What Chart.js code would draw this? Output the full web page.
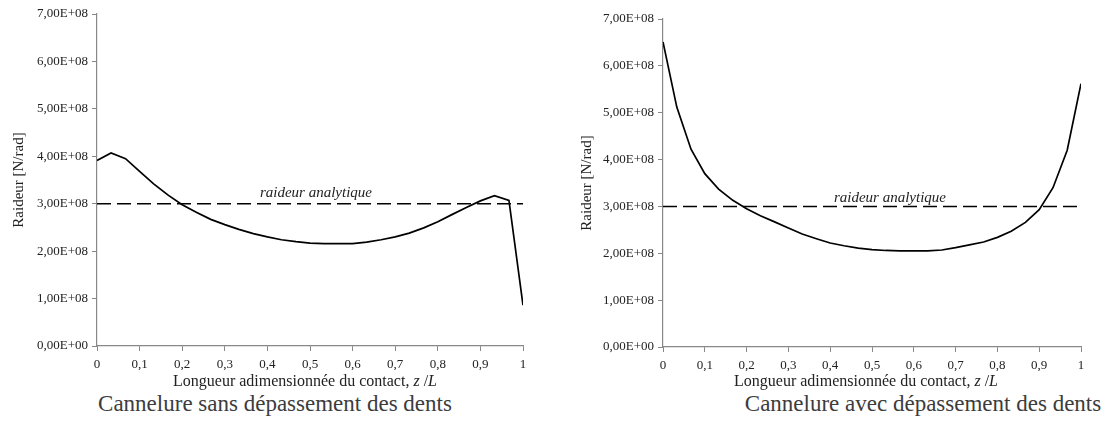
<!DOCTYPE html>
<html lang="fr">
<head>
<meta charset="utf-8">
<script src="https://cdn.jsdelivr.net/npm/chart.js@4/dist/chart.umd.min.js"></script>
<style>
  html, body { margin: 0; padding: 0; background: #fff; }
  body { width: 1106px; height: 432px; position: relative; overflow: hidden;
         font-family: 'Liberation Serif', 'Times New Roman', serif; }
  .box { position: absolute; top: 0; }
  .xtitle { position: absolute; top: 372px; font-size: 16px; color: #222;
            transform: translateX(-50%); white-space: nowrap; }
  .caption { position: absolute; top: 391px; font-size: 23px; color: #3c3c3c;
             transform: translateX(-50%); white-space: nowrap; }
</style>
</head>
<body>
  <div class="box" style="left:0"><canvas id="chart-sans" width="540" height="384"></canvas></div>
  <div class="box" style="left:570px"><canvas id="chart-avec" width="536" height="385"></canvas></div>

  <div class="xtitle" style="left:305px">Longueur adimensionnée du contact, <i>z</i> /<i>L</i></div>
  <div class="xtitle" style="left:866px">Longueur adimensionnée du contact, <i>z</i> /<i>L</i></div>
  <div class="caption" style="left:275px">Cannelure sans dépassement des dents</div>
  <div class="caption" style="left:923px">Cannelure avec dépassement des dents</div>

<script>
// ── Data (z/L, raideur in N/rad) ────────────────────────────────────
const zSans = [0, 0.033, 0.067, 0.1, 0.133, 0.167, 0.2, 0.233, 0.267, 0.3,
  0.333, 0.367, 0.4, 0.433, 0.467, 0.5, 0.533, 0.567, 0.6, 0.633,
  0.667, 0.7, 0.733, 0.767, 0.8, 0.833, 0.867, 0.9, 0.933, 0.967, 1];
const raideurSans = [3.91e8, 4.07e8, 3.95e8, 3.68e8, 3.42e8, 3.18e8, 2.98e8, 2.82e8, 2.67e8, 2.56e8,
  2.46e8, 2.37e8, 2.30e8, 2.24e8, 2.20e8, 2.17e8, 2.16e8, 2.16e8, 2.16e8, 2.19e8,
  2.24e8, 2.30e8, 2.38e8, 2.49e8, 2.62e8, 2.77e8, 2.92e8, 3.06e8, 3.17e8, 3.07e8, 0.86e8];

const zAvec = [0, 0.033, 0.067, 0.1, 0.133, 0.167, 0.2, 0.233, 0.267, 0.3,
  0.333, 0.367, 0.4, 0.433, 0.467, 0.5, 0.533, 0.567, 0.6, 0.633,
  0.667, 0.7, 0.733, 0.767, 0.8, 0.833, 0.867, 0.9, 0.933, 0.967, 1];
const raideurAvec = [6.51e8, 5.12e8, 4.22e8, 3.70e8, 3.37e8, 3.13e8, 2.95e8, 2.80e8, 2.67e8, 2.54e8,
  2.41e8, 2.31e8, 2.22e8, 2.16e8, 2.11e8, 2.08e8, 2.06e8, 2.05e8, 2.05e8, 2.05e8,
  2.07e8, 2.12e8, 2.18e8, 2.24e8, 2.34e8, 2.47e8, 2.66e8, 2.93e8, 3.40e8, 4.20e8, 5.62e8];

const zAnalytique       = [0, 1];
const raideurAnalytique = [3e8, 3e8];
const labelAnalytique   = 'raideur analytique';

const yMax  = 7e8;
const yStep = 1e8;
const xStep = 0.1;

// ── Helpers ─────────────────────────────────────────────────────────
const FONT = "'Liberation Serif', 'Times New Roman', serif";

function sci(v) {
  if (v === 0) return '0,00E+00';
  const e = Math.floor(Math.log10(v) + 1e-9);
  const m = v / Math.pow(10, e);
  return m.toFixed(2).replace('.', ',') + 'E+' + String(e).padStart(2, '0');
}

function frac(v) {
  const r = Math.round(v * 10) / 10;
  return String(r).replace('.', ',');
}

const pts = (xs, ys) => xs.map((x, i) => ({ x, y: ys[i] }));

// label above the analytic line
const analyticLabel = {
  id: 'analyticLabel',
  afterDatasetsDraw(chart, args, opts) {
    const { ctx, scales: { x, y } } = chart;
    ctx.save();
    ctx.font = `italic 15px ${FONT}`;
    ctx.fillStyle = '#222';
    ctx.textAlign = 'center';
    ctx.textBaseline = 'alphabetic';
    ctx.fillText(labelAnalytique, x.getPixelForValue(opts.z), y.getPixelForValue(raideurAnalytique[0]) - opts.lift);
    ctx.restore();
  },
};

function makeChart(id, zs, ks, g) {
  return new Chart(document.getElementById(id), {
    type: 'line',
    data: {
      datasets: [
        {
          data: pts(zs, ks),
          borderColor: '#000',
          borderWidth: 1.7,
          pointRadius: 0,
          tension: 0,
        },
        {
          data: pts(zAnalytique, raideurAnalytique),
          borderColor: '#000',
          borderWidth: 1.5,
          borderDash: [14, 6],
          pointRadius: 0,
        },
      ],
    },
    options: {
      responsive: false,
      animation: false,
      events: [],
      layout: { padding: { top: g.top, right: g.right, bottom: 14, left: 0 } },
      plugins: {
        legend: { display: false },
        tooltip: { enabled: false },
        analyticLabel: { z: g.labelZ, lift: g.lift },
      },
      scales: {
        x: {
          type: 'linear',
          min: 0, max: 1,
          afterFit: s => { s.height = 24; },
          grid: { drawOnChartArea: false, color: '#888', tickLength: 5, tickColor: '#888' },
          border: { color: '#888', width: 1.2 },
          ticks: {
            stepSize: xStep,
            padding: 6,
            color: '#222',
            font: { family: FONT, size: 13 },
            maxRotation: 0,
            autoSkip: false,
            callback: v => frac(v),
          },
        },
        y: {
          min: 0, max: yMax,
          afterFit: s => { s.width = g.yWidth; },
          grid: { drawOnChartArea: false, color: '#888', tickLength: 5, tickColor: '#888' },
          border: { color: '#888', width: 1.2 },
          ticks: {
            stepSize: yStep,
            padding: 4,
            color: '#222',
            font: { family: FONT, size: 13 },
            callback: v => sci(v),
          },
          title: {
            display: true,
            text: 'Raideur [N/rad]',
            color: '#222',
            font: { family: FONT, size: 15 },
            padding: { top: g.titlePad, bottom: 0 },
          },
        },
      },
    },
    plugins: [analyticLabel],
  });
}

makeChart('chart-sans', zSans, raideurSans,
  { top: 14, right: 17, yWidth: 97, titlePad: 10, labelZ: 0.514, lift: 7 });
makeChart('chart-avec', zAvec, raideurAvec,
  { top: 19, right: 25, yWidth: 93, titlePad: 8, labelZ: 0.543, lift: 4 });
</script>
</body>
</html>
